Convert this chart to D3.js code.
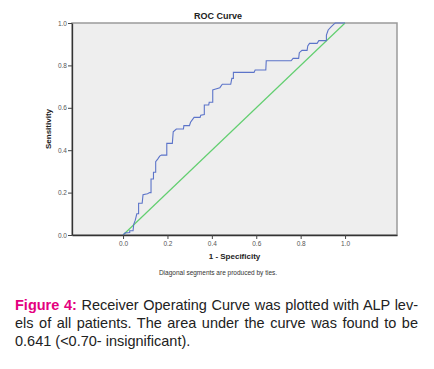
<!DOCTYPE html>
<html>
<head>
<meta charset="utf-8">
<script src="https://cdn.jsdelivr.net/npm/d3@7"></script>
<style>
  body { margin: 0; background: #fff; }
  #chart { position: relative; width: 434px; height: 369px; overflow: hidden; }
  .cap { position: absolute; left: 15px; width: 403px; font-family: "Liberation Sans", Arial, sans-serif;
         font-size: 14.5px; line-height: 18px; color: #222; white-space: nowrap; }
  .just { text-align: justify; text-align-last: justify; white-space: normal; }
</style>
</head>
<body>
<div id="chart"></div>
<script>
// ROC curve vertices (1 - specificity, sensitivity)
var fpr = [0, 0.01, 0.03, 0.03, 0.045, 0.048, 0.055, 0.062, 0.07, 0.07, 0.086, 0.09, 0.11, 0.12, 0.126,
    0.126, 0.137, 0.137, 0.147, 0.147, 0.156, 0.165, 0.173, 0.197, 0.197, 0.222, 0.226, 0.24, 0.272,
    0.274, 0.299, 0.304, 0.315, 0.32, 0.347, 0.35, 0.366, 0.366, 0.386, 0.388, 0.404, 0.404, 0.41,
    0.436, 0.447, 0.485, 0.49, 0.497, 0.497, 0.59, 0.595, 0.643, 0.645, 0.757, 0.766, 0.791, 0.794,
    0.806, 0.829, 0.832, 0.84, 0.874, 0.882, 0.916, 0.916, 0.924, 0.938, 0.95, 0.956, 1.0];
var tpr = [0, 0.01, 0.012, 0.02, 0.02, 0.05, 0.07, 0.10, 0.10, 0.15, 0.15, 0.19, 0.195, 0.2, 0.2,
    0.264, 0.264, 0.296, 0.296, 0.346, 0.358, 0.372, 0.377, 0.377, 0.432, 0.432, 0.487, 0.5, 0.5,
    0.516, 0.516, 0.532, 0.548, 0.555, 0.555, 0.565, 0.568, 0.613, 0.613, 0.626, 0.626, 0.684, 0.686,
    0.695, 0.711, 0.711, 0.739, 0.739, 0.767, 0.767, 0.778, 0.778, 0.822, 0.822, 0.833, 0.833, 0.86,
    0.871, 0.871, 0.892, 0.904, 0.904, 0.917, 0.917, 0.943, 0.967, 0.983, 0.995, 1.0, 1.0];
var refLine = [0, 1];
var xTicks = [0, 0.2, 0.4, 0.6, 0.8, 1.0];
var yTicks = [0, 0.2, 0.4, 0.6, 0.8, 1.0];

var w = 434, h = 369;
var box = { left: 72, right: 397, top: 23, bottom: 235 };

var x = d3.scaleLinear().domain([-0.23, 1.234]).range([box.left, box.right]);
var y = d3.scaleLinear().domain([0, 1]).range([box.bottom, box.top]);

var svg = d3.select("#chart").append("svg")
    .attr("width", w).attr("height", h)
    .style("position", "absolute").style("left", 0).style("top", 0)
    .style("font-family", "'Liberation Sans', Arial, sans-serif");

// plot background
svg.append("rect")
    .attr("x", box.left).attr("y", box.top)
    .attr("width", box.right - box.left).attr("height", box.bottom - box.top)
    .attr("fill", "#eeeeee")
    .attr("stroke", "#9a9a9a").attr("stroke-width", 1.5);

// diagonal reference
svg.append("line")
    .attr("x1", x(refLine[0])).attr("y1", y(refLine[0]))
    .attr("x2", x(refLine[1])).attr("y2", y(refLine[1]))
    .attr("stroke", "#62cf70").attr("stroke-width", 1.2);

// ROC curve
var pts = fpr.map(function(d, i) { return [d, tpr[i]]; });
svg.append("path")
    .datum(pts)
    .attr("d", d3.line().x(function(d) { return x(d[0]); }).y(function(d) { return y(d[1]); }))
    .attr("fill", "none")
    .attr("stroke", "#5c74c9").attr("stroke-width", 1.1);

// axes
var yAxis = svg.append("g")
    .attr("transform", "translate(" + box.left + ",0)")
    .call(d3.axisLeft(y).tickValues(yTicks).tickSize(4).tickSizeOuter(0).tickFormat(d3.format(".1f")));
var xAxis = svg.append("g")
    .attr("transform", "translate(0," + box.bottom + ")")
    .call(d3.axisBottom(x).tickValues(xTicks).tickSize(4).tickSizeOuter(0).tickFormat(d3.format(".1f")));

[yAxis, xAxis].forEach(function(a) {
    a.select(".domain").attr("stroke", "#333").attr("stroke-width", 1.3);
    a.selectAll(".tick line").attr("stroke", "#444");
    a.selectAll(".tick text").attr("fill", "#555").style("font-size", "6.5px")
        .style("font-family", "'Liberation Sans', Arial, sans-serif");
});
yAxis.selectAll(".tick text").attr("x", -5);
xAxis.selectAll(".tick text").attr("y", 6);

// titles
svg.append("text")
    .attr("x", 218).attr("y", 19)
    .attr("text-anchor", "middle")
    .style("font-size", "9px").style("font-weight", "bold").attr("fill", "#222")
    .text("ROC Curve");

svg.append("text")
    .attr("transform", "translate(51," + ((box.top + box.bottom) / 2) + ") rotate(-90)")
    .attr("text-anchor", "middle")
    .style("font-size", "8px").style("font-weight", "bold").attr("fill", "#222")
    .text("Sensitivity");

svg.append("text")
    .attr("x", (box.left + box.right) / 2).attr("y", 259)
    .attr("text-anchor", "middle")
    .style("font-size", "8px").style("font-weight", "bold").attr("fill", "#222")
    .text("1 - Specificity");

svg.append("text")
    .attr("x", 218).attr("y", 275)
    .attr("text-anchor", "middle")
    .style("font-size", "6.5px").attr("fill", "#333")
    .text("Diagonal segments are produced by ties.");

// caption
var chart = d3.select("#chart");
var l1 = chart.append("div").attr("class", "cap just").style("top", "296px");
l1.append("span").style("color", "#e4007f").style("font-weight", "bold").text("Figure 4:");
l1.append("span").text(" Receiver Operating Curve was plotted with ALP lev-");
chart.append("div").attr("class", "cap just").style("top", "314px")
    .text("els of all patients. The area under the curve was found to be");
chart.append("div").attr("class", "cap").style("top", "332px")
    .text("0.641 (<0.70- insignificant).");
</script>
</body>
</html>
